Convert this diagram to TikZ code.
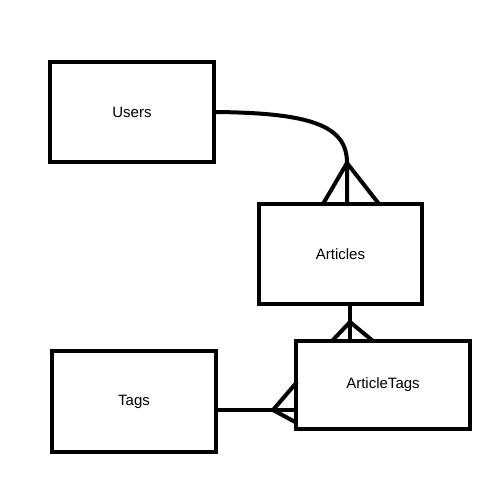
\documentclass[tikz,border=0pt]{standalone}
\usepackage{fontspec}
\setmainfont{Liberation Sans}
\usetikzlibrary{positioning}
\begin{document}
\begin{tikzpicture}[
        x=1pt, y=-1pt,
        line width=4pt,
        every node/.style={font=\fontsize{15}{18}\selectfont},
        table/.style={draw, rectangle, minimum width=164pt, minimum height=100pt}]
        \useasboundingbox (0,0) rectangle (500,500);
        % Tables
        \node[table] (users) at (132,112) {Users};
        \node[table, minimum width=163pt] (articles) at (340.5,254) {Articles};
        \node[table, minimum width=174pt, minimum height=88pt] (article_tags) at (383,385) {ArticleTags};
        \node[table, minimum height=101pt] (tags) at (134,401.5) {Tags};
        % Crow's feet
        \coordinate (users_foot) at (347,163);
        \coordinate (articles_foot) at (350,322);
        \coordinate (tags_foot) at (273,410);
        % Relations
        \draw (users.east) .. controls (312,113) and (347,126) .. (users_foot) -- (users_foot |- articles.north);
        \draw (users_foot) -- (323,204) (users_foot) -- (379,204);
        \draw ([xshift=9.5pt]articles.south) -- (articles_foot |- article_tags.north);
        \draw (articles_foot) -- (332,341) (articles_foot) -- (373,341);
        \draw (tags.east |- tags_foot) -- (tags_foot -| article_tags.west);
        \draw (tags_foot) -- (297,382) (tags_foot) -- (297,423);
\end{tikzpicture}
\end{document}
